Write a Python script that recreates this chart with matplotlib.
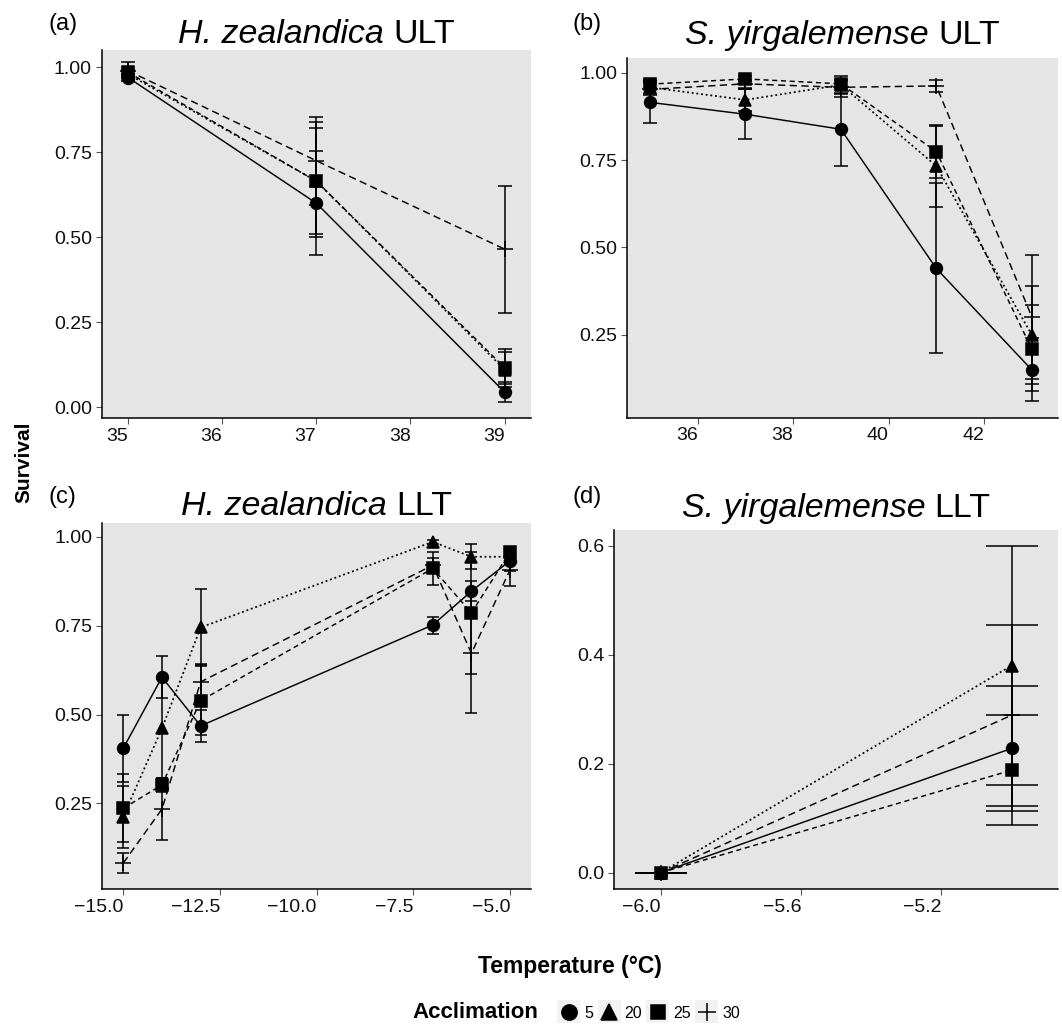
import matplotlib
matplotlib.use('Agg')
import matplotlib.pyplot as plt
from matplotlib.lines import Line2D
from matplotlib.patches import Rectangle
import numpy as np

plt.rcParams['font.family'] = ['Liberation Sans', 'DejaVu Sans']

# ---------------- data ----------------
acclimation = ['5', '20', '25', '30']

# (a) H. zealandica ULT
a_temp = [35, 37, 39]
a_mean = {'5': [0.970, 0.600, 0.044], '20': [0.980, 0.665, 0.110],
          '25': [0.985, 0.665, 0.116], '30': [0.990, 0.725, 0.465]}
a_low = {'5': [0.960, 0.447, 0.015], '20': [0.970, 0.500, 0.060],
         '25': [0.975, 0.510, 0.068], '30': [0.975, 0.595, 0.278]}
a_high = {'5': [0.980, 0.753, 0.073], '20': [0.990, 0.840, 0.162],
          '25': [0.995, 0.820, 0.172], '30': [1.016, 0.855, 0.651]}

# (b) S. yirgalemense ULT
b_temp = [35, 37, 39, 41, 43]
b_mean = {'5': [0.915, 0.881, 0.838, 0.440, 0.150],
          '20': [0.958, 0.922, 0.965, 0.733, 0.250],
          '25': [0.967, 0.982, 0.968, 0.774, 0.210],
          '30': [0.952, 0.968, 0.958, 0.962, 0.302]}
b_low = {'5': [0.855, 0.810, 0.733, 0.197, 0.060],
         '20': [0.940, 0.890, 0.940, 0.617, 0.110],
         '25': [0.955, 0.975, 0.955, 0.700, 0.089],
         '30': [0.935, 0.955, 0.930, 0.945, 0.124]}
b_high = {'5': [0.975, 0.952, 0.943, 0.683, 0.240],
          '20': [0.976, 0.954, 0.990, 0.849, 0.390],
          '25': [0.980, 0.990, 0.980, 0.847, 0.334],
          '30': [0.970, 0.980, 0.980, 0.980, 0.479]}

# (c) H. zealandica LLT
c_temp = [-15, -14, -13, -7, -6, -5]
c_mean = {'5': [0.405, 0.605, 0.468, 0.752, 0.847, 0.933],
          '20': [0.213, 0.461, 0.745, 0.986, 0.944, 0.944],
          '25': [0.236, 0.302, 0.539, 0.911, 0.786, 0.958],
          '30': [0.082, 0.234, 0.592, 0.920, 0.672, 0.908]}
c_low = {'5': [0.310, 0.546, 0.422, 0.727, 0.820, 0.905],
         '20': [0.125, 0.320, 0.638, 0.980, 0.909, 0.924],
         '25': [0.140, 0.282, 0.442, 0.864, 0.614, 0.948],
         '30': [0.055, 0.147, 0.542, 0.900, 0.503, 0.861]}
c_high = {'5': [0.500, 0.664, 0.514, 0.775, 0.875, 0.960],
          '20': [0.300, 0.600, 0.852, 0.992, 0.979, 0.964],
          '25': [0.332, 0.322, 0.636, 0.958, 0.958, 0.968],
          '30': [0.109, 0.321, 0.642, 0.940, 0.842, 0.955]}

# (d) S. yirgalemense LLT
d_temp = [-6, -5]
d_mean = {'5': [0.0, 0.228], '20': [0.0, 0.380], '25': [0.0, 0.188], '30': [0.0, 0.289]}
d_low = {'5': [0.0, 0.113], '20': [0.0, 0.161], '25': [0.0, 0.087], '30': [0.0, 0.123]}
d_high = {'5': [0.0, 0.342], '20': [0.0, 0.599], '25': [0.0, 0.289], '30': [0.0, 0.454]}

# ticks
a_xticks = [35, 36, 37, 38, 39]
a_yticks = [0.0, 0.25, 0.5, 0.75, 1.0]
a_ylabels = ['0.00', '0.25', '0.50', '0.75', '1.00']
b_xticks = [36, 38, 40, 42]
b_yticks = [0.25, 0.5, 0.75, 1.0]
b_ylabels = ['0.25', '0.50', '0.75', '1.00']
c_xticks = [-15, -12.5, -10, -7.5, -5]
c_xlabels = ['\u221215.0', '\u221212.5', '\u221210.0', '\u22127.5', '\u22125.0']
c_yticks = [0.25, 0.5, 0.75, 1.0]
c_ylabels = ['0.25', '0.50', '0.75', '1.00']
d_xticks = [-6.0, -5.6, -5.2]
d_xlabels = ['\u22126.0', '\u22125.6', '\u22125.2']
d_yticks = [0.0, 0.2, 0.4, 0.6]
d_ylabels = ['0.0', '0.2', '0.4', '0.6']

# titles (species in italics, test type upright)
species = ['H. zealandica', 'S. yirgalemense', 'H. zealandica', 'S. yirgalemense']
test = ['ULT', 'ULT', 'LLT', 'LLT']

# ---------------- style ----------------
markers = {'5': 'o', '20': '^', '25': 's', '30': '+'}
msizes = {'5': 8.5, '20': 9.0, '25': 8.0, '30': 11.0}
linestyles = {'5': '-', '20': (0, (1.1, 1.6)), '25': (0, (3.5, 2.5)), '30': (0, (5.0, 3.0))}
linewidths = {'5': 1.05, '20': 1.25, '25': 1.05, '30': 1.05}
PANEL_BG = '#E5E5E5'

W, H = 1062, 1028
fig = plt.figure(figsize=(W / 100, H / 100), dpi=100)
renderer = fig.canvas.get_renderer()


def px_axes(left, top, right, bottom):
    return fig.add_axes([left / W, 1 - bottom / H, (right - left) / W, (bottom - top) / H])


def draw(ax, temps, means, lows, highs, capsize, xlim, ylim, xticks, xlabels, yticks, ylabels):
    ax.set_facecolor(PANEL_BG)
    for g in acclimation:
        m = np.array(means[g])
        lo = np.array(lows[g])
        hi = np.array(highs[g])
        ax.plot(temps, m, color='black', lw=linewidths[g], ls=linestyles[g], zorder=2)
        ax.errorbar(temps, m, yerr=[m - lo, hi - m], fmt='none', ecolor='black',
                    elinewidth=1.1, capsize=capsize, capthick=1.1, zorder=3)
        ax.plot(temps, m, ls='none', marker=markers[g], ms=msizes[g], color='black',
                mew=1.1, zorder=4)
    ax.set_xlim(*xlim)
    ax.set_ylim(*ylim)
    ax.set_xticks(xticks)
    ax.set_xticklabels(xlabels)
    ax.set_yticks(yticks)
    ax.set_yticklabels(ylabels)
    for lbl in ax.get_xticklabels():
        lbl.set_horizontalalignment('right')
    for s in ['top', 'right']:
        ax.spines[s].set_visible(False)
    for s in ['left', 'bottom']:
        ax.spines[s].set_color('black')
        ax.spines[s].set_linewidth(1.1)
    ax.tick_params(axis='both', direction='out', length=4, width=0.8, color='#555555',
                   labelsize=14, labelcolor='#111111', pad=3)


axa = px_axes(101.7, 50, 531, 418.3)
draw(axa, a_temp, a_mean, a_low, a_high, 4.8, (34.72, 39.28), (-0.033, 1.051),
     a_xticks, [str(v) for v in a_xticks], a_yticks, a_ylabels)
axb = px_axes(627, 58.3, 1058, 417.7)
draw(axb, b_temp, b_mean, b_low, b_high, 4.8, (34.52, 43.55), (0.013, 1.041),
     b_xticks, [str(v) for v in b_xticks], b_yticks, b_ylabels)
axc = px_axes(102, 523, 531, 889)
draw(axc, c_temp, c_mean, c_low, c_high, 4.2, (-15.55, -4.46), (0.009, 1.039),
     c_xticks, c_xlabels, c_yticks, c_ylabels)
axd = px_axes(614.3, 530, 1058, 889)
draw(axd, d_temp, d_mean, d_low, d_high, 19, (-6.1325, -4.8675), (-0.03, 0.629),
     d_xticks, d_xlabels, d_yticks, d_ylabels)

# titles: italic species + upright test, centred over each panel
title_fs = 24.5
for ax, sp, tt, base in zip([axa, axb, axc, axd], species, test, [43, 44, 515, 517]):
    bb = ax.get_position()
    cx = (bb.x0 + bb.x1) / 2 * W
    t1 = fig.text(0, 1 - base / H, sp + ' ', ha='left', va='baseline',
                  fontsize=title_fs, style='italic')
    t2 = fig.text(0, 1 - base / H, tt, ha='left', va='baseline', fontsize=title_fs)
    w1 = t1.get_window_extent(renderer).width
    w2 = t2.get_window_extent(renderer).width
    x0 = cx - (w1 + w2) / 2
    t1.set_x(x0 / W)
    t2.set_x((x0 + w1) / W)

# panel tags
for txt, x, base in [('(a)', 49, 30), ('(b)', 573, 30), ('(c)', 49, 503), ('(d)', 573, 503)]:
    fig.text(x / W, 1 - base / H, txt, ha='left', va='baseline', fontsize=17)

# axis labels
fig.text(24 / W, 1 - 462 / H, 'Survival', rotation=90, ha='center', va='center',
         fontsize=15, fontweight='bold')
fig.text(570 / W, 1 - 967 / H, 'Temperature (\u00b0C)', ha='center', va='center',
         fontsize=16.5, fontweight='bold')

# legend
fig.text(412 / W, 1 - 1013 / H, 'Acclimation', ha='left', va='center',
         fontsize=16, fontweight='bold')
handles = [Line2D([], [], ls='none', marker=markers[g], ms=msizes[g] + 2.5, color='black', mew=1.1)
           for g in acclimation]
leg = fig.legend(handles, acclimation, loc='center left', bbox_to_anchor=(559 / W, 1 - 1013 / H),
                 ncol=4, frameon=False, fontsize=11.5, handlelength=1.25, handletextpad=0.35,
                 columnspacing=0.35, borderpad=0, borderaxespad=0)

# light grey key backgrounds behind the legend symbols
fig.canvas.draw()
key = 23
for h in leg.legend_handles:
    bb = h.get_window_extent(renderer)
    kx = (bb.x0 + bb.x1) / 2
    ky = (bb.y0 + bb.y1) / 2
    fig.patches.append(Rectangle(((kx - key / 2) / W, (ky - key / 2) / H), key / W, key / H,
                                 transform=fig.transFigure, facecolor='#F2F2F2',
                                 edgecolor='none', zorder=0))

fig.savefig('out.png', dpi=100)
